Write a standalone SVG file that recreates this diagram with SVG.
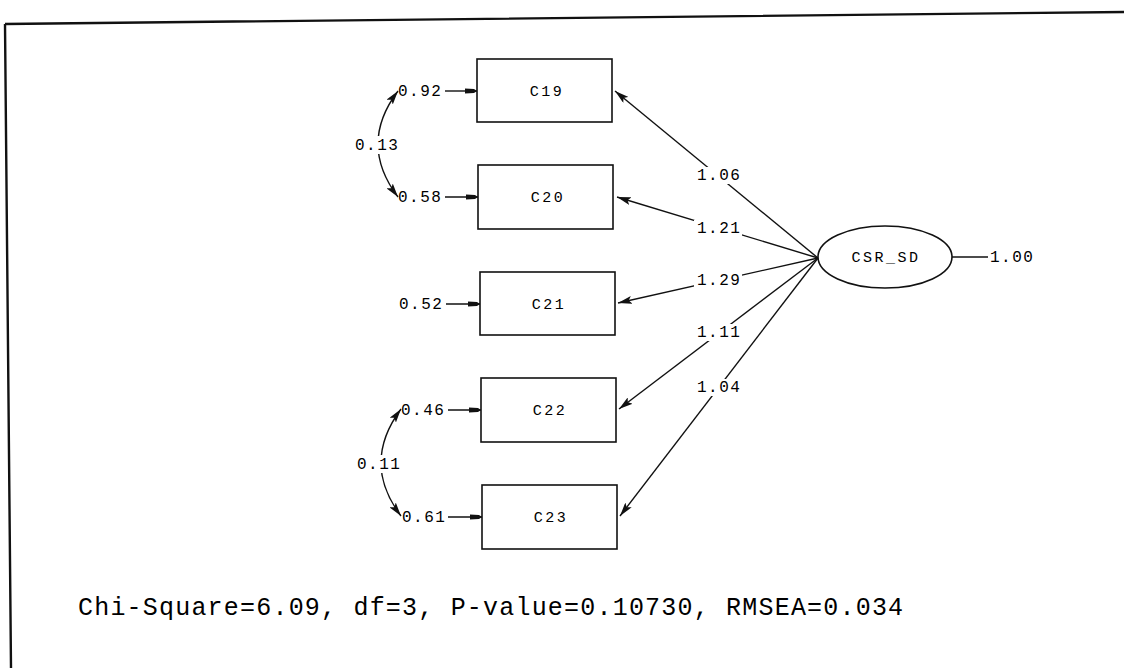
<svg xmlns="http://www.w3.org/2000/svg" width="1124" height="668" viewBox="0 0 1124 668">
<style>
.box{fill:#fff;stroke:#111;stroke-width:1.6}
.lbl{font-family:"Liberation Mono",monospace;font-size:16px;fill:#000;letter-spacing:1.5px}
.nm{font-family:"Liberation Mono",monospace;font-size:15px;fill:#000;letter-spacing:2.5px}
.ln{stroke:#111;stroke-width:1.4;fill:none}
.bg{fill:#fff}
</style>
<defs>
<marker id="ah" viewBox="0 0 14 8" refX="14" refY="4" markerWidth="14" markerHeight="8" markerUnits="userSpaceOnUse" orient="auto-start-reverse">
<path d="M0,0 L14,4 L0,8 L3,4 Z" fill="#111"/>
</marker>
<marker id="rh" viewBox="0 0 12 6" refX="12" refY="3" markerWidth="12" markerHeight="6" markerUnits="userSpaceOnUse" orient="auto">
<path d="M0,0.5 L9,1 L12,3 L9,5 L0,5.5 Z" fill="#111"/>
</marker>
</defs>
<rect width="1124" height="668" fill="#fff"/>
<g id="frame">
<path d="M5,24 L1124,12 M5,24 L11,668" stroke="#111" stroke-width="2.4" fill="none"/>
</g>
<g id="connectors">
<line class="ln" x1="818" y1="258" x2="615" y2="91" marker-end="url(#ah)"/>
<line class="ln" x1="818" y1="258" x2="617" y2="197" marker-end="url(#ah)"/>
<line class="ln" x1="818" y1="258" x2="618" y2="303" marker-end="url(#ah)"/>
<line class="ln" x1="818" y1="258" x2="619" y2="409" marker-end="url(#ah)"/>
<line class="ln" x1="818" y1="258" x2="620" y2="516" marker-end="url(#ah)"/>
<line class="ln" x1="952" y1="257" x2="988" y2="257"/>
<line class="ln" x1="445" y1="91" x2="477" y2="91" marker-end="url(#rh)"/>
<line class="ln" x1="445" y1="197" x2="478" y2="197" marker-end="url(#rh)"/>
<line class="ln" x1="446" y1="304" x2="480" y2="304" marker-end="url(#rh)"/>
<line class="ln" x1="448" y1="410" x2="481" y2="410" marker-end="url(#rh)"/>
<line class="ln" x1="448" y1="517" x2="482" y2="517" marker-end="url(#rh)"/>
<path class="ln" d="M398,91 Q358,144 398,197" marker-start="url(#ah)" marker-end="url(#ah)"/>
<path class="ln" d="M401,409 Q361,463 401,516" marker-start="url(#ah)" marker-end="url(#ah)"/>
<rect class="bg" x="694" y="167" width="48" height="17"/>
<rect class="bg" x="694" y="220" width="48" height="17"/>
<rect class="bg" x="694" y="272" width="48" height="17"/>
<rect class="bg" x="694" y="324" width="48" height="17"/>
<rect class="bg" x="694" y="379" width="48" height="17"/>
<rect class="bg" x="353" y="136" width="46" height="18"/>
<rect class="bg" x="355" y="455" width="46" height="18"/>
<text class="lbl" x="697" y="180">1.06</text>
<text class="lbl" x="697" y="233">1.21</text>
<text class="lbl" x="697" y="285">1.29</text>
<text class="lbl" x="697" y="337">1.11</text>
<text class="lbl" x="697" y="392">1.04</text>
<text class="lbl" x="355" y="150">0.13</text>
<text class="lbl" x="357" y="469">0.11</text>
<text class="lbl" x="990" y="262">1.00</text>
<text class="lbl" x="398" y="96">0.92</text>
<text class="lbl" x="398" y="202">0.58</text>
<text class="lbl" x="399" y="309">0.52</text>
<text class="lbl" x="401" y="415">0.46</text>
<text class="lbl" x="402" y="522">0.61</text>
</g>
<g id="C19"><rect class="box" x="477" y="59" width="135" height="63"/><text class="nm" x="547" y="96" text-anchor="middle">C19</text></g>
<g id="C20"><rect class="box" x="478" y="165" width="135" height="64"/><text class="nm" x="548" y="202" text-anchor="middle">C20</text></g>
<g id="C21"><rect class="box" x="480" y="272" width="135" height="63"/><text class="nm" x="549" y="309" text-anchor="middle">C21</text></g>
<g id="C22"><rect class="box" x="481" y="378" width="135" height="64"/><text class="nm" x="550" y="415" text-anchor="middle">C22</text></g>
<g id="C23"><rect class="box" x="482" y="485" width="135" height="64"/><text class="nm" x="551" y="522" text-anchor="middle">C23</text></g>
<g id="CSR_SD"><ellipse class="box" cx="885" cy="257" rx="67" ry="31"/><text class="nm" x="886" y="262" text-anchor="middle" letter-spacing="1">CSR_SD</text></g>
<g id="fit"><text x="78" y="615" font-family="Liberation Mono, monospace" font-size="25" letter-spacing="1.2" fill="#000">Chi-Square=6.09, df=3, P-value=0.10730, RMSEA=0.034</text></g>
</svg>
